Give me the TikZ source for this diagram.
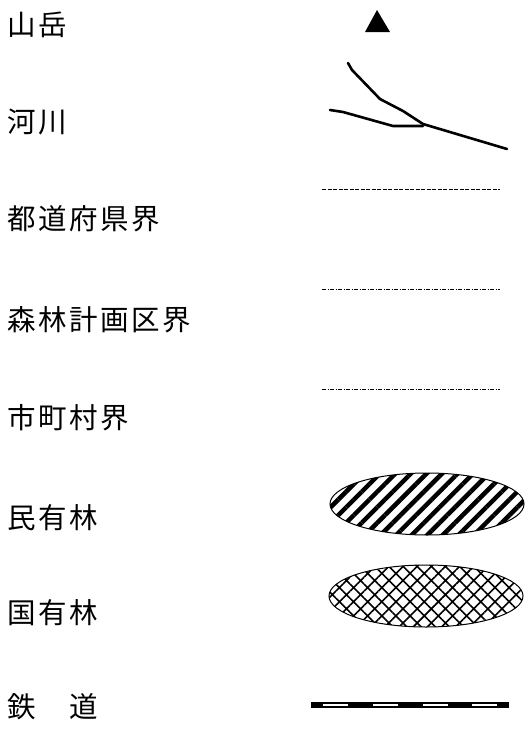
\documentclass[tikz,border=0pt]{standalone}
\usepackage{fontspec}
\newfontfamily\jpfont[LetterSpace=9]{Noto Sans CJK JP}
\usetikzlibrary{patterns.meta}
\tikzset{
  lbl/.style={anchor=west,inner sep=0pt,font=\jpfont\fontsize{28.5}{31}\selectfont},
  riverline/.style={line width=2.6pt,line join=round,line cap=round},
  boundary/.style={line width=1pt},
}
\begin{document}
\begin{tikzpicture}[x=1pt,y=-1pt]
\useasboundingbox (0,0) rectangle (528,729);
% labels
\node[lbl] (l1) at (7,25) {山岳};
\node[lbl] (l2) at (7,122) {河川};
\node[lbl] (l3) at (7,219) {都道府県界};
\node[lbl] (l4) at (7,320) {森林計画区界};
\node[lbl] (l5) at (7,418) {市町村界};
\node[lbl] (l6) at (7,518) {民有林};
\node[lbl] (l7) at (7,613) {国有林};
\node[lbl] (l8) at (7,707) {鉄　道};
% mountain
\fill (377,10) -- (390,32) -- (365,32) -- cycle;
% river
\draw[riverline] (348,63) -- (352,70) -- (380,99) -- (403,111) -- (423,124);
\draw[riverline] (330,110) -- (343,112) -- (393,126) -- (423,126);
\draw[riverline] (423,124) -- (507,149);
% boundaries
\draw[boundary,dash pattern=on 4pt off 1.5pt] (322,189) -- (500,189);
\draw[boundary,dash pattern=on 4pt off 1.5pt on 1pt off 1.5pt] (322,289) -- (500,289);
\draw[boundary,dash pattern=on 4pt off 1.5pt on 1pt off 1.5pt] (322,389) -- (500,389);
% private forest
\draw[line width=1pt,pattern={Lines[angle=45,distance=11pt,line width=4.5pt]}] (427,504) ellipse [x radius=97, y radius=31];
% national forest
\draw[line width=1pt,pattern={Hatch[angle=45,distance=10pt,line width=1.6pt]}] (426,596) ellipse [x radius=97, y radius=31];
% railway
\fill (311,702) rectangle (509,708);
\foreach \a/\b in {323/348,373/398,423/448,472/497}
  \fill[white] (\a,703.8) rectangle (\b,706.2);
\end{tikzpicture}
\end{document}
